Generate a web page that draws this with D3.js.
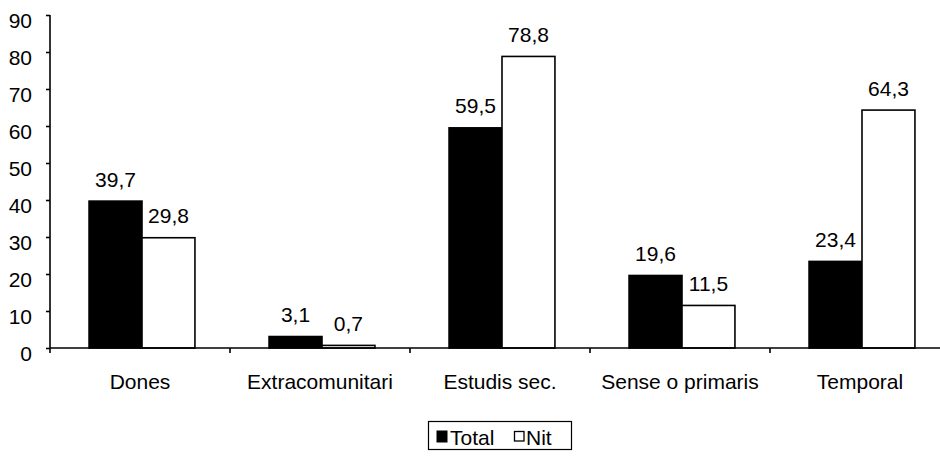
<!DOCTYPE html>
<html><head><meta charset="utf-8">
<script src="https://cdn.jsdelivr.net/npm/d3@7"></script>
<style>body{margin:0;background:#fff}svg{display:block}text{font-family:"Liberation Sans",Arial,sans-serif;fill:#000}</style>
</head><body>
<svg id="c" width="940" height="460"></svg>
<script>
const categories = ["Dones","Extracomunitari","Estudis sec.","Sense o primaris","Temporal"];
const seriesNames = ["Total","Nit"];
const totalValues = [39.7, 3.1, 59.5, 19.6, 23.4];
const nitValues = [29.8, 0.7, 78.8, 11.5, 64.3];
const yTicks = [0,10,20,30,40,50,60,70,80,90];

const FS = 21;
const svg = d3.select("#c");
const x0 = 50, x1 = 950, yTop = 15, yBot = 348;
const x = d3.scaleBand().domain(categories).range([x0, x1]).paddingInner(0).paddingOuter(0);
const xs = d3.scaleBand().domain(seriesNames).range([0, x.bandwidth()]).paddingInner(0).paddingOuter(0.7);
const y = d3.scaleLinear().domain([0, 90]).range([yBot, yTop]);
const fills = {Total:"#000", Nit:"#fff"};
const vals = {Total: totalValues, Nit: nitValues};
const fmt = v => d3.format(".1f")(v).replace(".", ",");

// bars
categories.forEach((c, i) => {
  seriesNames.forEach(s => {
    const v = vals[s][i];
    const bx = x(c) + xs(s) + 2;
    svg.append("rect")
      .attr("x", bx).attr("y", y(v))
      .attr("width", xs.bandwidth()).attr("height", y(0) - y(v))
      .attr("fill", fills[s]).attr("stroke", "#000").attr("stroke-width", 1.6);
    svg.append("text")
      .attr("x", bx + xs.bandwidth() / 2).attr("y", y(v) - 14.5)
      .attr("text-anchor", "middle").attr("font-size", FS)
      .text(fmt(v));
  });
});

// y axis
const ya = svg.append("g").attr("transform", `translate(${x0},0)`)
  .call(d3.axisLeft(y).tickValues(yTicks).tickSize(4).tickPadding(14).tickFormat(d3.format("d")));
ya.select(".domain").attr("stroke", "#000").attr("stroke-width", 1.6).attr("d", `M0,${yTop}V${yBot}`);
ya.selectAll(".tick line").attr("stroke", "#000").attr("stroke-width", 1.6);
ya.selectAll(".tick text").attr("font-size", FS).attr("font-family", '"Liberation Sans",Arial,sans-serif').attr("dy", "0.58em").attr("fill", "#000");

// x axis
const xa = svg.append("g").attr("transform", `translate(0,${yBot})`)
  .call(d3.axisBottom(x).tickSize(0).tickPadding(26));
xa.select(".domain").attr("stroke", "#000").attr("stroke-width", 1.6).attr("d", `M${x0},0H${x1}`);
xa.selectAll(".tick text").attr("font-size", FS).attr("font-family", '"Liberation Sans",Arial,sans-serif').attr("fill", "#000");
// category boundary ticks
const bounds = categories.map(c => x(c)).concat([x1]);
svg.append("g").selectAll("line").data(bounds).join("line")
  .attr("x1", d => d).attr("x2", d => d).attr("y1", yBot).attr("y2", yBot + 5)
  .attr("stroke", "#000").attr("stroke-width", 1.6);

// legend
const lg = svg.append("g");
lg.append("rect").attr("x", 428.5).attr("y", 421.5).attr("width", 143).attr("height", 28)
  .attr("fill", "#fff").attr("stroke", "#000").attr("stroke-width", 1.2);
lg.append("rect").attr("x", 437).attr("y", 431).attr("width", 10).attr("height", 11).attr("fill", "#000").attr("stroke", "#000");
lg.append("text").attr("x", 450).attr("y", 444.5).attr("font-size", FS).text(seriesNames[0]);
lg.append("rect").attr("x", 514.5).attr("y", 431.5).attr("width", 9.5).attr("height", 9.5).attr("fill", "#fff").attr("stroke", "#000").attr("stroke-width", 1.3);
lg.append("text").attr("x", 526).attr("y", 444.5).attr("font-size", FS).text(seriesNames[1]);
</script>
</body></html>
